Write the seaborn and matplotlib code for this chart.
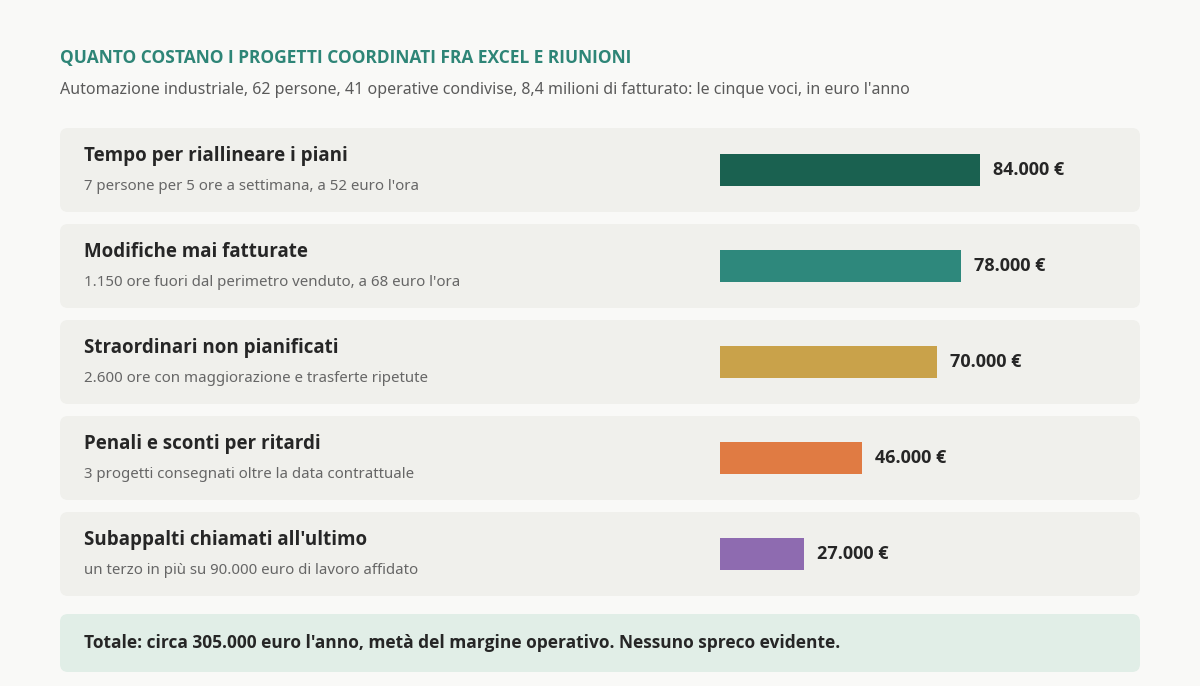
import matplotlib
matplotlib.use("Agg")
import matplotlib.pyplot as plt
import seaborn as sns
import pandas as pd
from matplotlib.patches import FancyBboxPatch

categories = ["Tempo per riallineare i piani", "Modifiche mai fatturate",
              "Straordinari non pianificati", "Penali e sconti per ritardi",
              "Subappalti chiamati all'ultimo"]
details = ["7 persone per 5 ore a settimana, a 52 euro l'ora",
           "1.150 ore fuori dal perimetro venduto, a 68 euro l'ora",
           "2.600 ore con maggiorazione e trasferte ripetute",
           "3 progetti consegnati oltre la data contrattuale",
           "un terzo in più su 90.000 euro di lavoro affidato"]
values = [84000, 78000, 70000, 46000, 27000]
value_labels = ["84.000 €", "78.000 €", "70.000 €", "46.000 €", "27.000 €"]
colors = ["#1a6150", "#2e887c", "#c9a24a", "#e07b43", "#8e6bb0"]

sns.set_theme(style="white")
plt.rcParams['font.family'] = ['Noto Sans', 'DejaVu Sans']
BOLD = ['Open Sans', 'DejaVu Sans']

W, H = 1200, 686
fig = plt.figure(figsize=(W / 100, H / 100), dpi=100, facecolor="#f9f9f7")

# background layer in pixel coordinates
bg = fig.add_axes([0, 0, 1, 1])
bg.set_xlim(0, W)
bg.set_ylim(H, 0)
bg.axis("off")

bg.text(60, 58, "QUANTO COSTANO I PROGETTI COORDINATI FRA EXCEL E RIUNIONI",
        color="#2e8577", fontsize=12.5, fontweight="bold", family=BOLD, va="center")
bg.text(60, 90, "Automazione industriale, 62 persone, 41 operative condivise, 8,4 milioni di fatturato: "
        "le cinque voci, in euro l'anno", color="#5a5a5a", fontsize=11.5, va="center")

for i, (cat, det) in enumerate(zip(categories, details)):
    top = 128 + i * 96
    bg.add_patch(FancyBboxPatch((60, top), 1080, 84, boxstyle="round,pad=0,rounding_size=8",
                                fc="#f0f0ec", ec="none"))
    bg.text(84, top + 28, cat, fontsize=13.5, fontweight="bold", family=BOLD,
            color="#262626", va="center")
    bg.text(84, top + 58, det, fontsize=10.8, color="#666666", va="center")

bg.add_patch(FancyBboxPatch((60, 614), 1080, 58, boxstyle="round,pad=0,rounding_size=8",
                            fc="#e1eee7", ec="none"))
bg.text(84, 643, "Totale: circa 305.000 euro l'anno, metà del margine operativo. Nessuno spreco evidente.",
        fontsize=12.5, fontweight="bold", family=BOLD, color="#262626", va="center")

# bar layer: x 720..1140 px, rows centred at 170 + 96*i
px_per_euro = 260 / 84000
ax = fig.add_axes([720 / W, 1 - 602 / H, 420 / W, 480 / H])
ax.patch.set_alpha(0)
df = pd.DataFrame({"cat": categories, "val": values})
sns.barplot(data=df, x="val", y="cat", hue="cat", palette=colors, orient="h",
            width=1 / 3, legend=False, saturation=1, edgecolor="none", ax=ax)
ax.set_xlim(0, 420 / px_per_euro)
ax.set_ylim(4.5, -0.5)
ax.axis("off")
for i, (v, lab) in enumerate(zip(values, value_labels)):
    ax.text(v + 13 / px_per_euro, i, lab, fontsize=13, fontweight="bold", family=BOLD,
            color="#262626", va="center")

fig.savefig("out.png", dpi=100, facecolor=fig.get_facecolor())
